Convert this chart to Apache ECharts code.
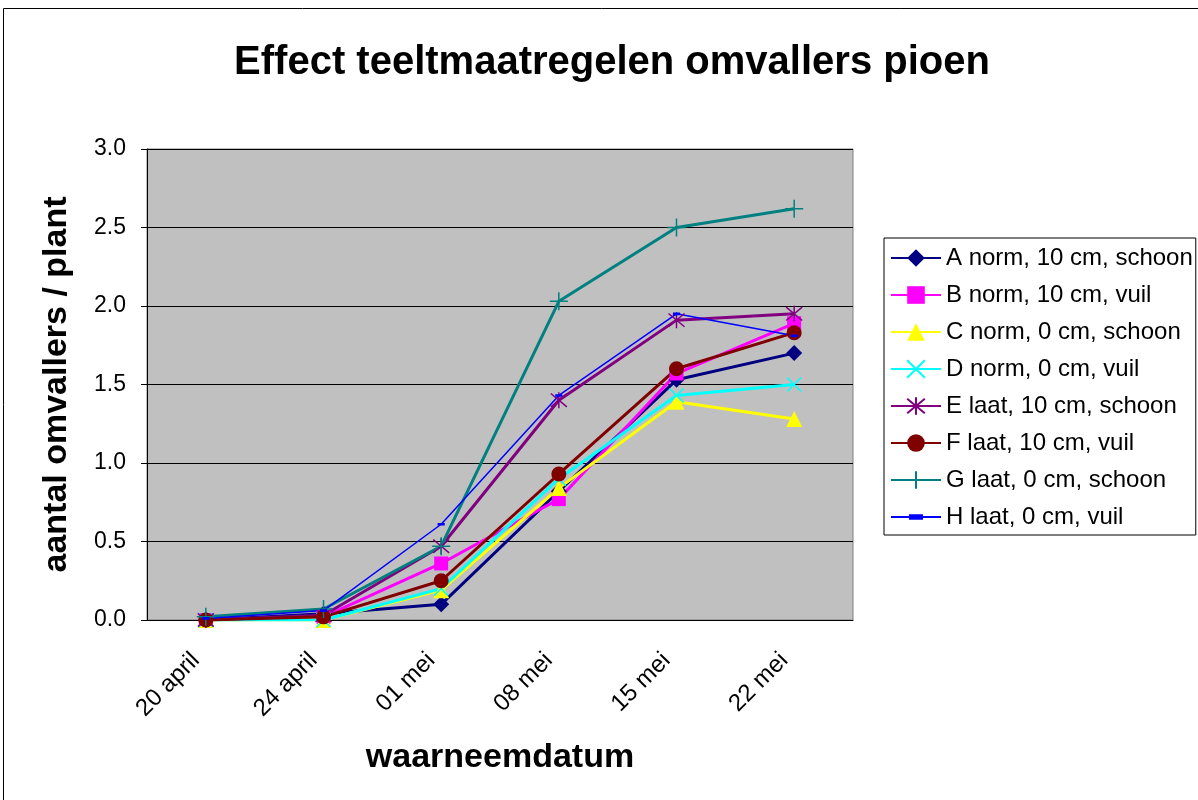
<!DOCTYPE html>
<html>
<head>
<meta charset="utf-8">
<script src="https://cdn.jsdelivr.net/npm/echarts@6/dist/echarts.min.js"></script>
<style>
html,body{margin:0;padding:0;background:#fff;}
#chart{width:1198px;height:800px;}
</style>
</head>
<body>
<div id="chart"></div>
<script>
var dates = ['20 april', '24 april', '01 mei', '08 mei', '15 mei', '22 mei'];
var yTicks = [0, 0.5, 1.0, 1.5, 2.0, 2.5, 3.0];

var serA = [0, 0.04, 0.10, 0.82, 1.53, 1.70];
var serB = [0, 0.02, 0.36, 0.77, 1.57, 1.89];
var serC = [0, 0, 0.19, 0.84, 1.39, 1.28];
var serD = [0, 0, 0.20, 0.90, 1.43, 1.50];
var serE = [0, 0.03, 0.47, 1.40, 1.91, 1.95];
var serF = [0, 0.02, 0.25, 0.93, 1.60, 1.83];
var serG = [0.02, 0.07, 0.47, 2.03, 2.50, 2.62];
var serH = [0.01, 0.06, 0.61, 1.43, 1.95, 1.81];

var names = ['A norm, 10 cm, schoon', 'B norm, 10 cm, vuil', 'C norm, 0 cm, schoon', 'D norm, 0 cm, vuil',
	'E laat, 10 cm, schoon', 'F laat, 10 cm, vuil', 'G laat, 0 cm, schoon', 'H laat, 0 cm, vuil'];

var crossPath = 'path://M0,0L10,10M10,0L0,10';
var starPath = 'path://M0,0L10,10M10,0L0,10M5,-1L5,11';
var plusPath = 'path://M5,0L5,10M0,5L10,5';
// small dash inside an empty 10x10 box
var dashPath = 'path://M0,0L0.01,0M1,3.5L9,3.5L9,6.5L1,6.5ZM10,10L10.01,10';

function mk(name, data, color, symbol, size, width, stroke){
	var s = {
		name: name,
		type: 'line',
		data: data,
		symbol: symbol,
		symbolSize: size,
		showAllSymbol: true,
		lineStyle: {color: color, width: width},
		itemStyle: {color: stroke ? 'rgba(0,0,0,0)' : color, borderColor: color, borderWidth: stroke ? 1.5 : 0, opacity: 1},
		emphasis: {disabled: true},
		animation: false
	};
	return s;
}

var font = 'Liberation Sans, Arial';
var chart = echarts.init(document.getElementById('chart'));
var option = {
	backgroundColor: '#fff',
	title: {
		text: 'Effect teeltmaatregelen omvallers pioen',
		left: 607, top: 38, textAlign: 'center',
		textStyle: {fontFamily: font, fontWeight: 'bold', fontSize: 40, color: '#000'}
	},
	graphic: [{
		type: 'rect', silent: true,
		shape: {x: 3.5, y: 8.5, width: 1400, height: 1000},
		style: {fill: 'none', stroke: '#000', lineWidth: 1}
	}],
	legend: {
		orient: 'vertical',
		left: 884, top: 238,
		padding: [8, 3, 6, 6],
		itemGap: 13,
		itemWidth: 50, itemHeight: 22,
		borderColor: '#000', borderWidth: 1,
		backgroundColor: '#fff',
		textStyle: {fontFamily: font, fontSize: 24, color: '#000'},
		data: names
	},
	grid: {left: 147, top: 149, width: 706, height: 471, show: true, backgroundColor: '#c0c0c0', borderColor: '#808080', borderWidth: 1},
	xAxis: {
		type: 'category',
		data: dates,
		boundaryGap: true,
		name: 'waarneemdatum',
		nameLocation: 'middle',
		nameGap: 121,
		nameTextStyle: {fontFamily: font, fontWeight: 'bold', fontSize: 34, color: '#000'},
		axisLine: {lineStyle: {color: '#000'}},
		axisTick: {lineStyle: {color: '#000'}, length: 6},
		axisLabel: {rotate: 45, fontFamily: font, fontSize: 24, color: '#000', margin: 27, padding: [0, 14, 0, 0]}
	},
	yAxis: {
		type: 'value',
		min: 0, max: 3, interval: 0.5,
		name: 'aantal omvallers / plant',
		nameLocation: 'middle',
		nameGap: 73,
		nameTextStyle: {fontFamily: font, fontWeight: 'bold', fontSize: 34, color: '#000'},
		axisLine: {show: true, lineStyle: {color: '#000'}},
		axisTick: {show: true, lineStyle: {color: '#000'}, length: 6},
		splitLine: {lineStyle: {color: '#000', width: 1}},
		axisLabel: {fontFamily: font, fontSize: 23, color: '#000', margin: 21,
			formatter: function(v){ return yTicks.indexOf(v) >= 0 ? v.toFixed(1) : ''; }}
	},
	series: [
		mk(names[0], serA, '#000080', 'diamond', 16, 3, false),
		mk(names[1], serB, '#ff00ff', 'rect', 14, 3, false),
		mk(names[2], serC, '#ffff00', 'triangle', 16, 3, false),
		mk(names[3], serD, '#00ffff', crossPath, 14, 3, true),
		mk(names[4], serE, '#800080', starPath, 16, 3, true),
		mk(names[5], serF, '#800000', 'circle', 15, 3, false),
		mk(names[6], serG, '#008080', plusPath, 18, 3, true),
		mk(names[7], serH, '#0000ff', dashPath, 9, 1.5, false)
	]
};
chart.setOption(option);
</script>
</body>
</html>
